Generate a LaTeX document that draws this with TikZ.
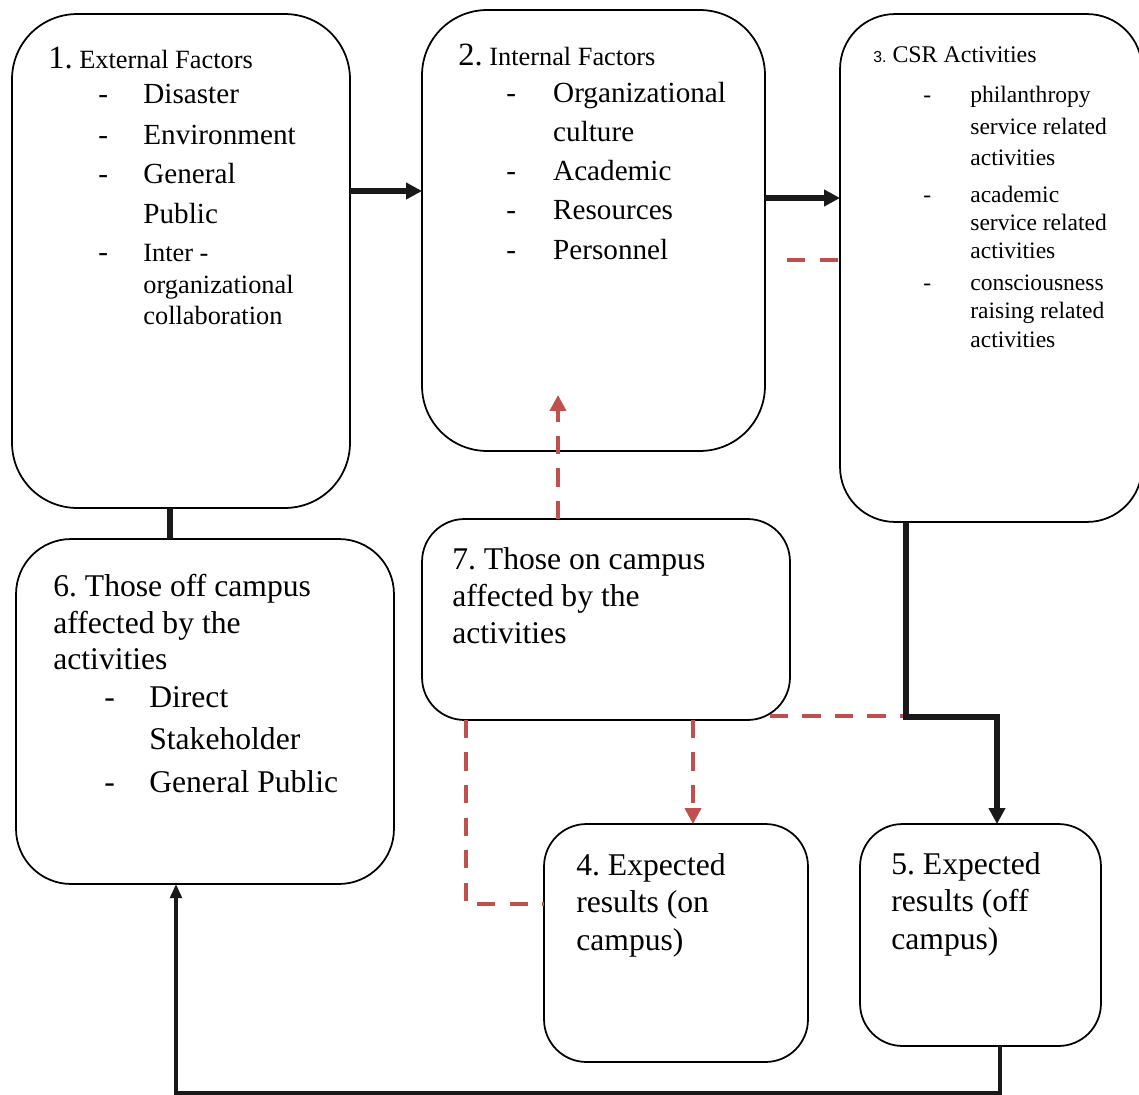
\documentclass[tikz,border=0pt]{standalone}
\usepackage{fontspec}
\setmainfont{Liberation Serif}
\setsansfont{Liberation Sans}
\usetikzlibrary{arrows.meta,calc}
\definecolor{fbred}{RGB}{192,80,77}
\frenchspacing

\begin{document}
\begin{tikzpicture}[x=0.02cm, y=-0.02cm,
  >={Triangle[length=9pt,width=9pt]},
  box/.style={draw=black, line width=1pt, fill=white, rounded corners=#1, inner sep=0pt, outer sep=0pt},
  box/.default=0.85cm,
  txt/.style={inner sep=0pt, anchor=base west},
  link/.style={draw=black!90, line width=3pt},
  back/.style={draw=black!90, line width=2pt},
  fb/.style={draw=fbred, line width=2.2pt, dash pattern=on 10.5pt off 8pt}]
\useasboundingbox (0,0) rectangle (1139,1095);

% boxes
\node[box=1.3cm, minimum width=6.76cm, minimum height=9.88cm] (B1) at (181,261) {};
\node[box=1.3cm, minimum width=6.86cm, minimum height=8.82cm] (B2) at (593.5,230.5) {};
\node[box=1.1cm, minimum width=6.04cm, minimum height=10.16cm] (B3) at (991,268) {};
\node[box=1.1cm, minimum width=7.56cm, minimum height=6.9cm] (B6) at (205,711.5) {};
\node[box, minimum width=7.36cm, minimum height=4.02cm] (B7) at (606,619.5) {};
\node[box, minimum width=5.28cm, minimum height=4.76cm] (B4) at (676,943) {};
\node[box, minimum width=4.82cm, minimum height=4.44cm] (B5) at (980.5,935) {};

% texts
\node[txt] (T1) at (48,69) {\fontsize{16.6}{18.2}\selectfont
  \begin{tabular}[t]{@{\hspace{28.5pt}}p{25.6pt}@{}l@{}}
  \multicolumn{2}{@{}l@{}}{\fontsize{18.5}{20}\selectfont 1.\fontsize{15}{18}\selectfont\ External Factors}\\[1.7pt]
  - & Disaster\\[4.6pt]
  - & Environment\\[4pt]
  - & General\\[5pt]
    & Public\\[3pt]
  - & \fontsize{15}{18}\selectfont Inter -\\[0pt]
    & \fontsize{15}{18}\selectfont organizational\\
    & \fontsize{15}{18}\selectfont collaboration
  \end{tabular}};
\node[txt] (T2) at (458,66) {\fontsize{16.6}{18.2}\selectfont
  \begin{tabular}[t]{@{\hspace{27.3pt}}p{26.7pt}@{}l@{}}
  \multicolumn{2}{@{}l@{}}{\fontsize{18.5}{20}\selectfont 2.\fontsize{15}{18}\selectfont\ Internal Factors}\\[2.3pt]
  - & Organizational\\[4pt]
    & culture\\[4pt]
  - & Academic\\[4pt]
  - & Resources\\[4.6pt]
  - & Personnel
  \end{tabular}};
\node[txt] (T3) at (873,63) {\fontsize{13.4}{15.4}\selectfont
  \begin{tabular}[t]{@{\hspace{28.5pt}}p{26.7pt}@{}l@{}}
  \multicolumn{2}{@{}l@{}}{{\sffamily\fontsize{9}{10}\selectfont 3.}\fontsize{13.6}{15.4}\selectfont\ CSR Activities}\\[7.3pt]
  - & philanthropy\\[2.8pt]
    & service related\\[2.2pt]
    & activities\\[5.7pt]
  - & academic\\[0.6pt]
    & service related\\[0.5pt]
    & activities\\[2.8pt]
  - & consciousness\\[0.6pt]
    & raising related\\[0.6pt]
    & activities
  \end{tabular}};
\node[txt] (T6) at (53,596) {\fontsize{18}{20.5}\selectfont
  \begin{tabular}[t]{@{\hspace{29pt}}p{25.6pt}@{}l@{}}
  \multicolumn{2}{@{}l@{}}{6. Those off campus}\\[0.6pt]
  \multicolumn{2}{@{}l@{}}{affected by the}\\
  \multicolumn{2}{@{}l@{}}{activities}\\[1.1pt]
  - & Direct\\[3.4pt]
    & Stakeholder\\[4pt]
  - & General Public
  \end{tabular}};
\node[txt] (T7) at (452,569) {\fontsize{18}{21.3}\selectfont
  \begin{tabular}[t]{@{}l@{}}7. Those on campus\\ affected by the\\ activities\end{tabular}};
\node[txt] (T4) at (576,875) {\fontsize{18}{21.6}\selectfont
  \begin{tabular}[t]{@{}l@{}}4. Expected\\ results (on\\ campus)\end{tabular}};
\node[txt] (T5) at (891,874) {\fontsize{18}{21.4}\selectfont
  \begin{tabular}[t]{@{}l@{}}5. Expected\\ results (off\\ campus)\end{tabular}};

% feedback (dashed)
\coordinate (r3) at (787,260);
\draw[fb] (r3) -- (B3.west |- r3);
\coordinate (t2) at (558,395);
\draw[fb,->] (B7.north -| t2) -- (t2);
\coordinate (r7) at (922,716);
\draw[fb] ($(B7.south east |- r7)+(-20,0)$) -- (r7);
\draw[fb,->] (B7.south -| 693,0) -- (B4.north -| 693,0);
\coordinate (c4) at (466,904);
\draw[fb] (B7.south -| c4) |- (B4.west |- c4);

% main flow
\draw[link,->] (B1.east |- 0,191) -- (B2.west |- 0,191);
\draw[link,->] (B2.east |- 0,198) -- (B3.west |- 0,198);
\draw[link] (B1.south -| 170,0) -- (B6.north -| 170,0);
\coordinate (j35) at (906,717);
\draw[link,->] (B3.south -| j35) -- (j35) -| (B5.north -| 997,0);
\coordinate (c56) at (1000,1093);
\draw[back,-{Triangle[length=8pt,width=6.5pt]}] (B5.south -| c56) -- (c56) -| (B6.south -| 176,0);
\end{tikzpicture}
\end{document}
